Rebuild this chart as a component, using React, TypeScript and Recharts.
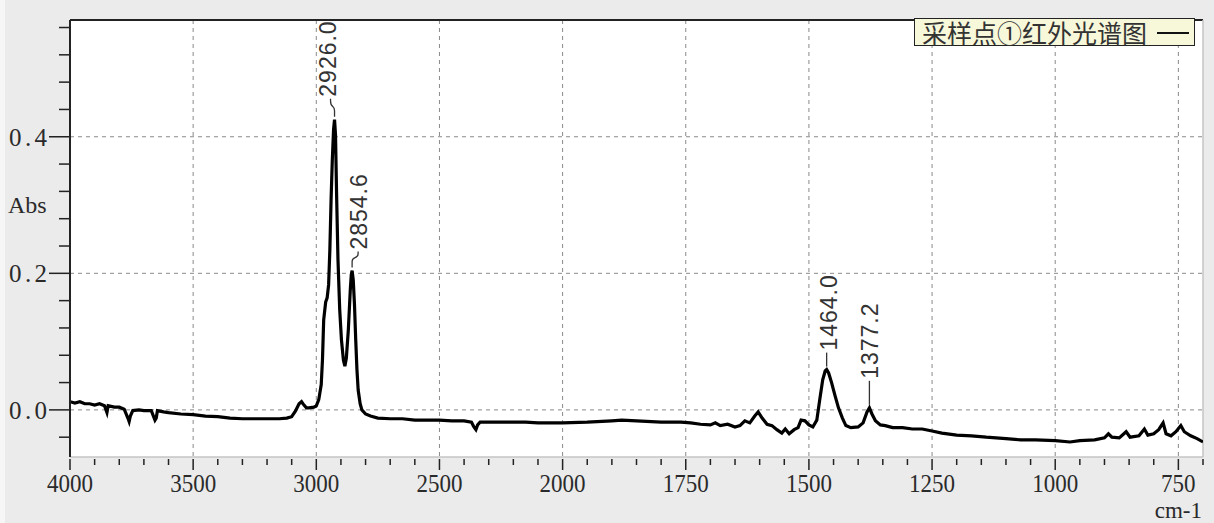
import React from 'react'
import {
  ComposedChart,
  Line,
  Scatter,
  XAxis,
  YAxis,
  CartesianGrid,
  ReferenceLine
} from 'recharts'

// trace: wavenumber (cm-1) / absorbance
const wavenumbers = [
  4000, 3980, 3960, 3940, 3920, 3900, 3880, 3860, 3850, 3845, 3820, 3800, 3780, 3765, 3760, 3755,
  3745, 3720, 3700, 3670, 3655, 3650, 3645, 3620, 3600, 3550, 3500, 3450, 3400, 3350, 3300, 3250,
  3200, 3150, 3120, 3100, 3085, 3070, 3060, 3050, 3040, 3030, 3010, 3000, 2990, 2980, 2975, 2970,
  2962, 2956, 2950, 2945, 2940, 2935, 2930, 2926, 2922, 2918, 2912, 2905, 2898, 2890, 2884, 2878,
  2870, 2862, 2858, 2854.6, 2850, 2845, 2840, 2835, 2830, 2822, 2815, 2800, 2780, 2750, 2700, 2650,
  2600, 2550, 2500, 2450, 2400, 2370, 2360, 2352, 2345, 2335, 2300, 2250, 2200, 2150, 2100, 2050,
  2000, 1950, 1900, 1880, 1850, 1800, 1760, 1740, 1720, 1700, 1690, 1680, 1665, 1650, 1640, 1630,
  1620, 1610, 1603, 1595, 1585, 1575, 1565, 1555, 1548, 1540, 1530, 1522, 1516, 1508, 1500, 1492,
  1484, 1478, 1472, 1467, 1464, 1460, 1454, 1447, 1440, 1432, 1425, 1415, 1400, 1390, 1382, 1377.2,
  1372, 1365, 1355, 1345, 1330, 1310, 1290, 1270, 1250, 1230, 1200, 1170, 1140, 1100, 1070, 1040,
  1000, 970, 950, 920, 900, 892, 885, 870, 856, 848, 830, 819, 812, 800, 790, 781,
  775, 765, 755, 745, 738, 725, 712, 700
]
const absorbance = [
  0.012, 0.010, 0.012, 0.009, 0.009, 0.007, 0.009, 0.006, -0.004, 0.006, 0.004, 0.004, 0.001, -0.012, -0.017, -0.009,
  -0.001, 0.000, -0.001, -0.001, -0.015, -0.012, -0.001, -0.003, -0.004, -0.006, -0.007, -0.009, -0.010, -0.012, -0.013, -0.013,
  -0.013, -0.013, -0.012, -0.010, -0.002, 0.009, 0.012, 0.007, 0.003, 0.003, 0.004, 0.006, 0.015, 0.037, 0.073, 0.132,
  0.158, 0.164, 0.183, 0.234, 0.308, 0.366, 0.410, 0.425, 0.403, 0.322, 0.220, 0.147, 0.103, 0.073, 0.064, 0.076,
  0.117, 0.176, 0.198, 0.204, 0.190, 0.154, 0.103, 0.059, 0.029, 0.009, 0.000, -0.006, -0.009, -0.012, -0.013, -0.013,
  -0.015, -0.015, -0.015, -0.016, -0.016, -0.018, -0.025, -0.029, -0.022, -0.018, -0.018, -0.018, -0.018, -0.018, -0.019, -0.019,
  -0.019, -0.018, -0.016, -0.015, -0.016, -0.018, -0.018, -0.019, -0.021, -0.022, -0.019, -0.023, -0.021, -0.025, -0.023, -0.016,
  -0.019, -0.009, -0.003, -0.012, -0.021, -0.023, -0.029, -0.034, -0.028, -0.035, -0.029, -0.026, -0.015, -0.016, -0.022, -0.025,
  -0.015, 0.015, 0.044, 0.057, 0.059, 0.054, 0.040, 0.021, 0.003, -0.012, -0.023, -0.026, -0.025, -0.019, -0.003, 0.003,
  -0.006, -0.016, -0.022, -0.023, -0.026, -0.026, -0.028, -0.028, -0.031, -0.034, -0.037, -0.038, -0.040, -0.042, -0.044, -0.044,
  -0.045, -0.047, -0.045, -0.044, -0.041, -0.035, -0.040, -0.041, -0.032, -0.040, -0.038, -0.028, -0.037, -0.035, -0.029, -0.019,
  -0.035, -0.038, -0.032, -0.023, -0.032, -0.038, -0.042, -0.047
]

const peakWavenumbers = [2926.0, 2854.6, 1464.0, 1377.2]
const peakAbsorbance = [0.425, 0.204, 0.059, 0.003]

const xTickLabels = [4000, 3500, 3000, 2500, 2000, 1750, 1500, 1250, 1000, 750]
const yTickLabels = [0.0, 0.2, 0.4]

const seriesName = '采样点①红外光谱图'

// the 4000-2000 range is drawn at half scale, like the instrument does
const toX = (w: number) => (w >= 2000 ? (4000 - w) / 2 : 1000 + (2000 - w))
const fromX = (t: number) => (t <= 1000 ? 4000 - 2 * t : 2000 - (t - 1000))

const X_MAX = toX(700)
const Y_MIN = -0.069
const Y_MAX = 0.571

const spectrum = wavenumbers.map((w, i) => ({ t: toX(w), v: absorbance[i] }))
const peaks = peakWavenumbers.map((w, i) => ({ t: toX(w), v: peakAbsorbance[i], label: w.toFixed(1), i }))

const majorX = xTickLabels.map(toX)
const xTicks: number[] = []
for (let t = 0; t <= X_MAX; t += 50) xTicks.push(t)
const yTicks: number[] = []
for (let i = 0; i <= 15; i++) yTicks.push(Math.round((-0.04 + i * 0.04) * 100) / 100)

const serif = '"Liberation Serif", "DejaVu Serif", serif'
const sans = '"Liberation Sans", Arial, sans-serif'

const XTick = (props: any) => {
  const { x, y, payload } = props
  const major = majorX.includes(payload.value)
  const label = String(fromX(payload.value))
  return (
    <g>
      <line x1={x} x2={x} y1={y + 2} y2={y + (major ? 13 : 8)} stroke="#222" strokeWidth={1.5} />
      {major && (
        <text
          x={x}
          y={y + 35}
          textAnchor="middle"
          fontFamily={serif}
          fontSize={25}
          textLength={label.length * 11.5}
          lengthAdjust="spacingAndGlyphs"
          fill="#2a2a2a"
        >
          {label}
        </text>
      )}
    </g>
  )
}

const YTick = (props: any) => {
  const { x, y, payload } = props
  const major = yTickLabels.some(l => Math.abs(l - payload.value) < 1e-6)
  return (
    <g>
      <line x1={x - (major ? 21 : 11)} x2={x - 1} y1={y} y2={y} stroke="#222" strokeWidth={1.5} />
      {major && (
        <text
          x={x - 23}
          y={y + 9}
          textAnchor="end"
          fontFamily={serif}
          fontSize={25}
          textLength={38}
          lengthAdjust="spacing"
          fill="#2a2a2a"
        >
          {payload.value.toFixed(1)}
        </text>
      )}
    </g>
  )
}

// leader / label placement for each peak marker
const peakStyle = [
  { dx: -7, gap: 22, squiggle: true },
  { dx: 7, gap: 20, squiggle: true },
  { dx: 2, gap: 18, squiggle: false },
  { dx: 1, gap: 28, squiggle: false }
]

const PeakLabel = (props: any) => {
  const { cx, cy, payload } = props
  const s = peakStyle[payload.i]
  const y0 = cy - 3
  const yt = cy - s.gap
  const tx = cx + s.dx
  const lx = cx + (s.dx < 0 ? s.dx + 3 : s.dx - 1)
  const d = s.squiggle
    ? `M${cx},${y0} L${cx},${y0 - 6} C${cx},${y0 - 12} ${lx},${y0 - 8} ${lx},${yt + 3} L${lx},${yt + 1}`
    : `M${cx},${y0} L${cx},${yt + 1}`
  return (
    <g>
      <path d={d} stroke="#333" strokeWidth={1.3} fill="none" />
      <text
        x={tx}
        y={yt - 1}
        transform={`rotate(-90 ${tx} ${yt - 1})`}
        dominantBaseline="central"
        fontFamily={sans}
        fontSize={23}
        letterSpacing={1}
        fill="#333"
      >
        {payload.label}
      </text>
    </g>
  )
}

const LegendBox = () => (
  <div
    style={{
      position: 'absolute',
      left: 914,
      top: 18,
      boxSizing: 'border-box',
      width: 281,
      height: 28,
      border: '1.5px solid #222',
      background: '#f7f7da',
      display: 'flex',
      alignItems: 'center',
      paddingLeft: 7,
      fontFamily: '"Noto Sans CJK SC", sans-serif',
      fontSize: 25,
      lineHeight: '26px',
      color: '#333',
      whiteSpace: 'nowrap'
    }}
  >
    <span>{seriesName}</span>
    <svg width={40} height={20} style={{ marginLeft: 8 }}>
      <line x1={2} x2={34} y1={11} y2={11} stroke="#111" strokeWidth={2} />
    </svg>
  </div>
)

const App = () => {
  return (
    <div style={{ position: 'fixed', left: 0, top: 0, width: 1214, height: 523, background: '#ebebeb' }}>
      <div style={{ position: 'absolute', left: 0, top: 0, width: 5, height: 523, background: '#f6f6f6' }} />
      <ComposedChart
        width={1214}
        height={523}
        data={spectrum}
        margin={{ top: 20, right: 11, bottom: 0, left: 10 }}
      >
        <CartesianGrid
          horizontalValues={yTickLabels}
          verticalValues={majorX.filter(t => t > 0)}
          stroke="#8a8a8a"
          strokeDasharray="4 4"
          fill="#fff"
        />
        <XAxis
          dataKey="t"
          type="number"
          domain={[0, X_MAX]}
          ticks={xTicks}
          interval={0}
          height={66}
          tickSize={0}
          tickMargin={0}
          axisLine={{ stroke: '#c4c4c4', strokeWidth: 1.5 }}
          tick={(p: any) => <XTick {...p} />}
          allowDataOverflow
        />
        <YAxis
          type="number"
          domain={[Y_MIN, Y_MAX]}
          ticks={yTicks}
          interval={0}
          width={60}
          tickSize={0}
          tickMargin={0}
          axisLine={{ stroke: '#222', strokeWidth: 2 }}
          tick={(p: any) => <YTick {...p} />}
          allowDataOverflow
        />
        <ReferenceLine y={Y_MAX} stroke="#222" strokeWidth={2} />
        <ReferenceLine x={X_MAX} stroke="#c4c4c4" strokeWidth={1.5} />
        <Line
          dataKey="v"
          type="linear"
          stroke="#000"
          strokeWidth={3.2}
          dot={false}
          isAnimationActive={false}
          name={seriesName}
        />
        <Scatter data={peaks} dataKey="v" shape={(p: any) => <PeakLabel {...p} />} isAnimationActive={false} legendType="none" />
        <text x={8} y={213} fontFamily={serif} fontSize={24} fill="#2a2a2a">Abs</text>
        <text x={1202} y={518} textAnchor="end" fontFamily={serif} fontSize={23} fill="#2a2a2a">cm-1</text>
      </ComposedChart>
      <LegendBox />
    </div>
  )
}

export default App
